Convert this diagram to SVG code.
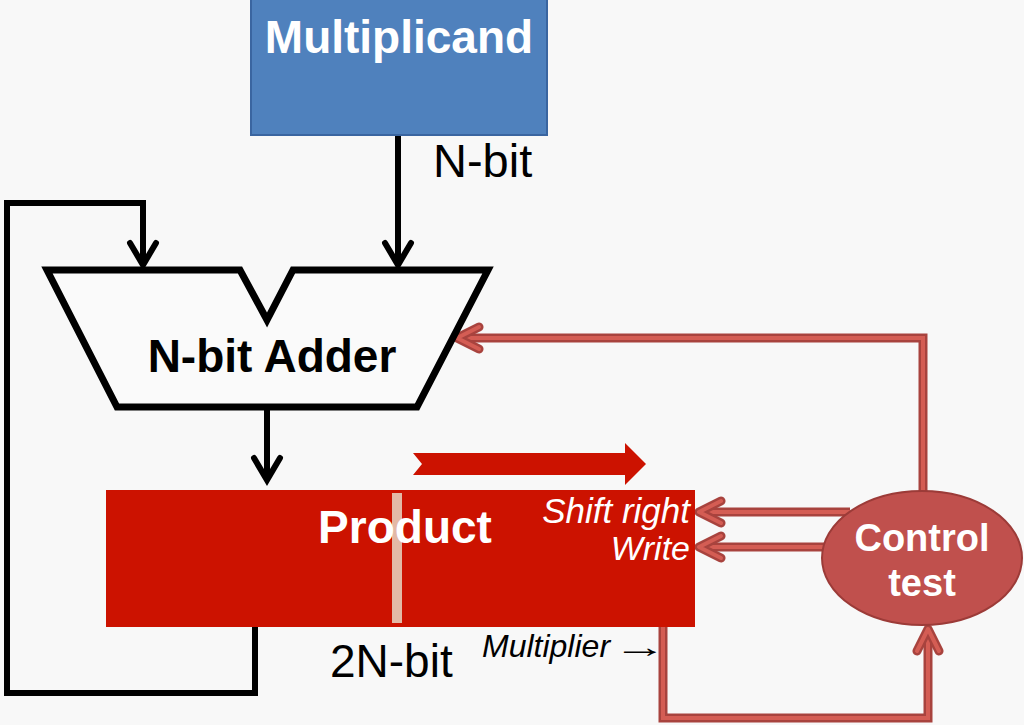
<svg xmlns="http://www.w3.org/2000/svg" width="1024" height="725" viewBox="0 0 1024 725">
<style>
text{font-family:"Liberation Sans",Arial,sans-serif}
.b{font-weight:bold}
.i{font-style:italic}
.blk{fill:none;stroke:#000;stroke-width:6;stroke-linejoin:miter}
.ro{fill:none;stroke:#a8433e;stroke-width:9;stroke-linejoin:miter}
.ri{fill:none;stroke:#d45d54;stroke-width:4;stroke-linejoin:miter}
</style>
<defs>
<marker id="ab" markerUnits="userSpaceOnUse" viewBox="-30 -20 36 40" markerWidth="36" markerHeight="40" refX="0" refY="0" orient="auto">
<path d="M-22,-13 L0,0 L-22,13" fill="none" stroke="#000" stroke-width="6" stroke-linecap="round" stroke-linejoin="miter"/>
</marker>
<marker id="ar" markerUnits="userSpaceOnUse" viewBox="-32 -20 38 40" markerWidth="38" markerHeight="40" refX="0" refY="0" orient="auto">
<path d="M-22,-11 L0,0 L-22,11" fill="none" stroke="#a8433e" stroke-width="9" stroke-linecap="round" stroke-linejoin="round"/>
<path d="M-22,-11 L0,0 L-22,11" fill="none" stroke="#d45d54" stroke-width="4" stroke-linecap="round" stroke-linejoin="round"/>
</marker>
</defs>
<rect width="1024" height="725" fill="#f8f8f8"/>
<g id="connectors">
<path class="blk" d="M398,135 L398,265" marker-end="url(#ab)"/>
<path class="blk" d="M255,627 L255,693 L7,693 L7,203 L143,203 L143,265" marker-end="url(#ab)"/>
<path class="blk" d="M267,407 L267,480" marker-end="url(#ab)"/>
<path class="ro" d="M923,500 L923,338 L457,338"/>
<path class="ri" d="M923,500 L923,338 L457,338" marker-end="url(#ar)"/>
<path class="ro" d="M850,512 L699,512"/>
<path class="ri" d="M850,512 L699,512" marker-end="url(#ar)"/>
<path class="ro" d="M830,547 L699,547"/>
<path class="ri" d="M830,547 L699,547" marker-end="url(#ar)"/>
<path class="ro" d="M663,627 L663,718 L928,718 L928,629"/>
<path class="ri" d="M663,627 L663,718 L928,718 L928,629" marker-end="url(#ar)"/>
</g>
<g id="multiplicand">
<rect x="251" y="-2" width="296" height="137" fill="#4f81bd" stroke="#3a65a0" stroke-width="2"/>
<text class="b" x="399" y="53" font-size="46" fill="#fff" text-anchor="middle">Multiplicand</text>
</g>
<g id="nbit-label">
<text x="433" y="177" font-size="47" fill="#000">N-bit</text>
</g>
<g id="adder">
<polygon points="47,270 240,270 267,320 293,270 488,270 417,407 117,407" fill="#fafafa" stroke="#000" stroke-width="7" stroke-linejoin="miter"/>
<text class="b" x="272" y="372" font-size="46" fill="#000" text-anchor="middle">N-bit Adder</text>
</g>
<g id="shift-arrow">
<polygon points="413,453 625,453 625,443 646,464 625,485 625,475 413,475 422,464" fill="#cc1200"/>
</g>
<g id="product">
<rect x="106" y="490" width="589" height="137" fill="#cc1200"/>
<rect x="392" y="493" width="10" height="130" fill="#e3b9a6"/>
<text class="b" x="405" y="543" font-size="46" fill="#fff" text-anchor="middle">Product</text>
<text class="i" x="690" y="523" font-size="35" fill="#fff" text-anchor="end">Shift right</text>
<text class="i" x="690" y="560" font-size="34" fill="#fff" text-anchor="end">Write</text>
</g>
<g id="product-labels">
<text x="330" y="677" font-size="46" fill="#000">2N-bit</text>
<text class="i" x="482" y="657" font-size="32" fill="#000">Multiplier</text>
<text transform="translate(613,657) scale(1.8,1)" x="0" y="0" font-size="30" fill="#000">→</text>
</g>
<g id="control">
<ellipse cx="922" cy="558" rx="100" ry="67" fill="#c0504d" stroke="#9c3b38" stroke-width="2"/>
<text class="b" x="922" y="551" font-size="38" fill="#fff" text-anchor="middle">Control</text>
<text class="b" x="922" y="596" font-size="38" fill="#fff" text-anchor="middle">test</text>
</g>
</svg>
